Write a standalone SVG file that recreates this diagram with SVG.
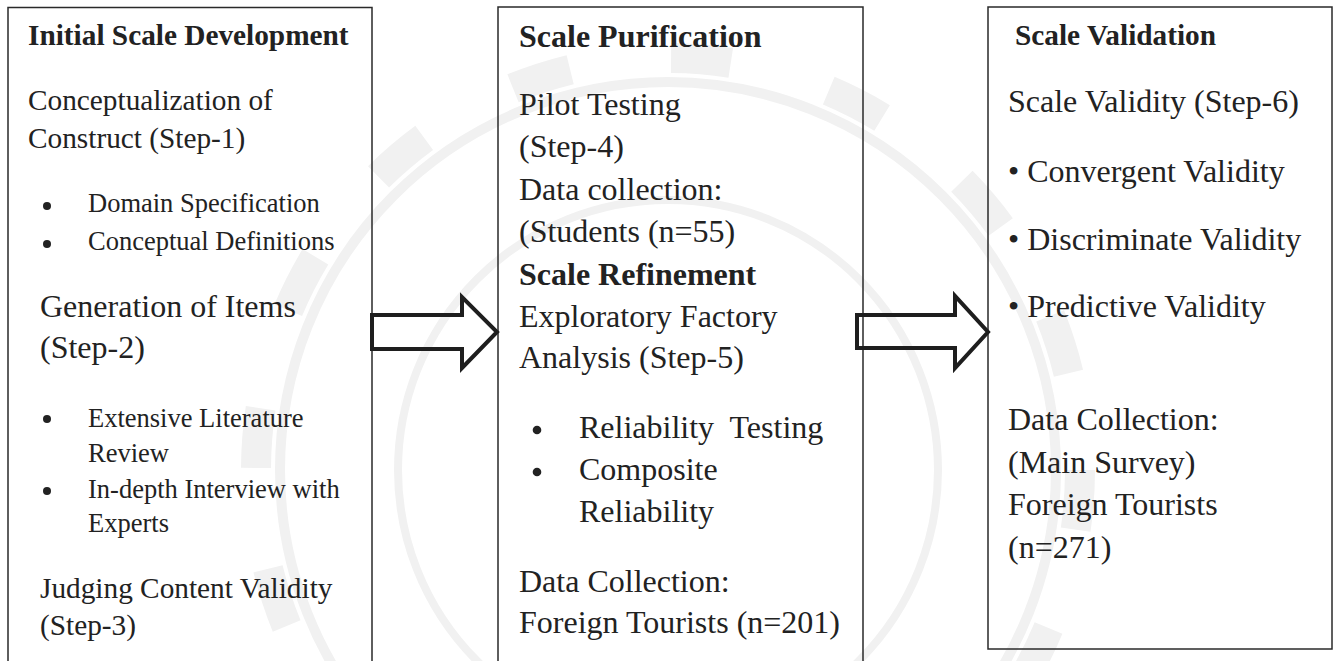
<svg xmlns="http://www.w3.org/2000/svg" width="1338" height="661" viewBox="0 0 1338 661">
  <style>
    text { font-family: "Liberation Serif", "Times New Roman", serif; fill: #222; }
    .h { font-weight: bold; }
    .s29 { font-size: 29.3px; }
    .s32 { font-size: 32px; }
    .s26 { font-size: 26.5px; }
    .box { fill: none; stroke: #2a2a2a; stroke-width: 1.5; }
    .arrow { fill: none; stroke: #1e1e1e; stroke-width: 4; stroke-linejoin: miter; }
    .dot { fill: #222; }
    .wm { fill: none; stroke: #f1f1f1; }
  </style>

  <rect width="1338" height="661" fill="#ffffff"/>

  <!-- faint seal watermark in the background -->
  <g id="watermark">
    <circle class="wm" cx="668" cy="470" r="412" stroke-width="30" stroke-dasharray="60 102"/>
    <circle class="wm" cx="668" cy="470" r="388" stroke-width="10"/>
    <circle class="wm" cx="668" cy="470" r="270" stroke-width="8"/>
  </g>

  <!-- stage 1 -->
  <g id="initial-scale-development">
    <path class="box" d="M8,700 V7.5 H372 V700"/>
    <text class="h s29" x="28" y="45">Initial Scale Development</text>
    <text class="s29" x="28" y="110">Conceptualization of</text>
    <text class="s29" x="28" y="148">Construct (Step-1)</text>
    <circle class="dot" cx="47" cy="206" r="4"/>
    <circle class="dot" cx="47" cy="244" r="4"/>
    <text class="s26" x="88" y="212">Domain Specification</text>
    <text class="s26" x="88" y="250">Conceptual Definitions</text>
    <text class="s32" x="40" y="317">Generation of Items</text>
    <text class="s32" x="40" y="358">(Step-2)</text>
    <circle class="dot" cx="47" cy="419" r="4"/>
    <circle class="dot" cx="47" cy="491" r="4"/>
    <text class="s26" x="88" y="427">Extensive Literature</text>
    <text class="s26" x="88" y="462">Review</text>
    <text class="s26" x="88" y="498">In-depth Interview with</text>
    <text class="s26" x="88" y="532">Experts</text>
    <text class="s29" x="40" y="598">Judging Content Validity</text>
    <text class="s29" x="40" y="635">(Step-3)</text>
  </g>

  <!-- stage 2 -->
  <g id="scale-purification">
    <path class="box" d="M498,700 V7 H863 V700"/>
    <text class="h s32" x="519" y="47">Scale Purification</text>
    <text class="s32" x="519" y="115">Pilot Testing</text>
    <text class="s32" x="519" y="157">(Step-4)</text>
    <text class="s32" x="519" y="200">Data collection:</text>
    <text class="s32" x="519" y="242">(Students (n=55)</text>
    <text class="h s32" x="519" y="285">Scale Refinement</text>
    <text class="s32" x="519" y="327">Exploratory Factory</text>
    <text class="s32" x="519" y="368">Analysis (Step-5)</text>
    <circle class="dot" cx="537" cy="430" r="4.3"/>
    <circle class="dot" cx="537" cy="472" r="4.3"/>
    <text class="s32" x="579" y="438" xml:space="preserve">Reliability  Testing</text>
    <text class="s32" x="579" y="480">Composite</text>
    <text class="s32" x="579" y="522">Reliability</text>
    <text class="s32" x="519" y="592">Data Collection:</text>
    <text class="s32" x="519" y="633">Foreign Tourists (n=201)</text>
  </g>

  <!-- stage 3 -->
  <g id="scale-validation">
    <rect class="box" x="988" y="7" width="344" height="642"/>
    <text class="h s29" x="1015" y="45">Scale Validation</text>
    <text class="s32" x="1008" y="112">Scale Validity (Step-6)</text>
    <text class="s32" x="1008" y="182">• Convergent Validity</text>
    <text class="s32" x="1008" y="250">• Discriminate Validity</text>
    <text class="s32" x="1008" y="317">• Predictive Validity</text>
    <text class="s32" x="1008" y="430">Data Collection:</text>
    <text class="s32" x="1008" y="473">(Main Survey)</text>
    <text class="s32" x="1008" y="515">Foreign Tourists</text>
    <text class="s32" x="1008" y="558">(n=271)</text>
  </g>

  <!-- block arrows between stages -->
  <g id="connectors">
    <polygon class="arrow" points="372,315 462,315 462,297 497,332 462,368 462,349 372,349"/>
    <polygon class="arrow" points="857,315 955,315 955,296 988,332 955,368 955,348 857,348"/>
  </g>
</svg>
